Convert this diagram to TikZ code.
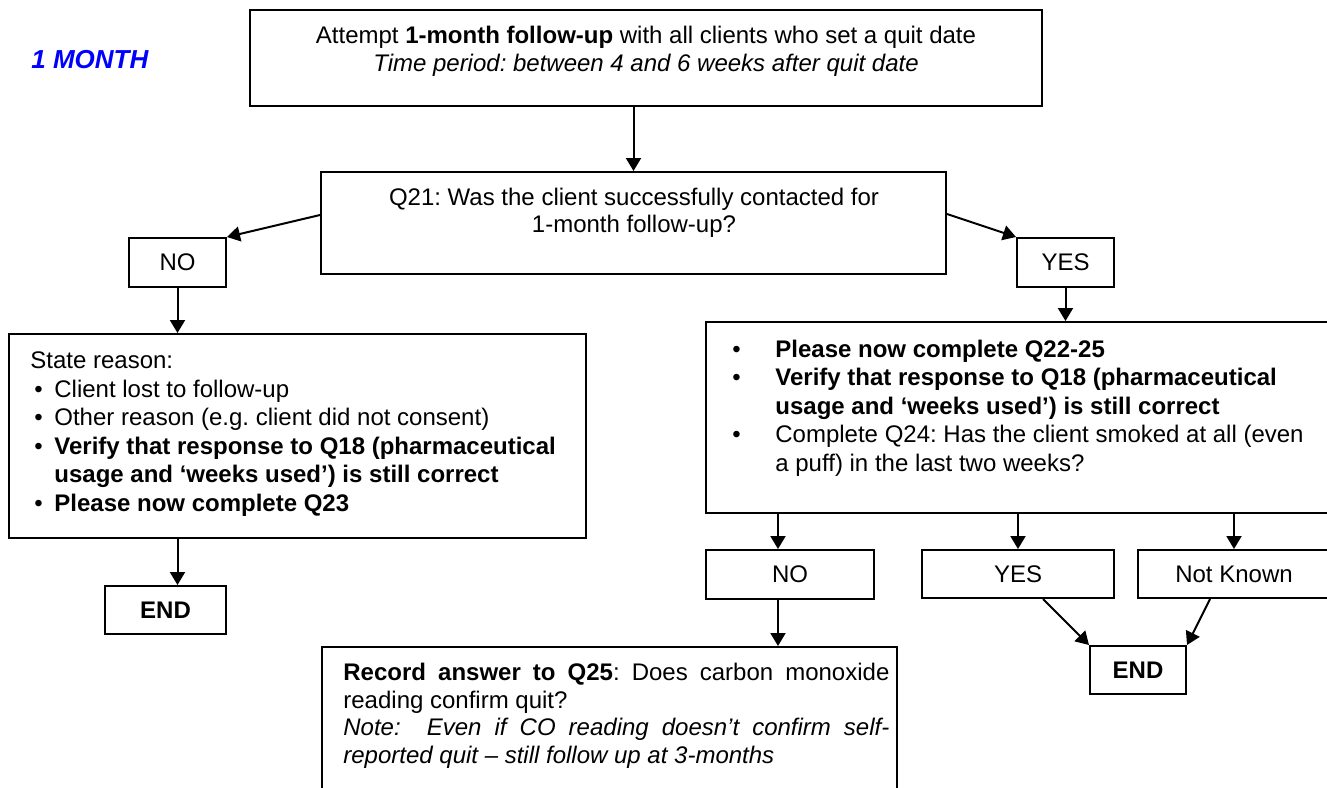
\documentclass[tikz,border=0pt]{standalone}
\usepackage{fontspec}
\setmainfont{Liberation Sans}
\usetikzlibrary{arrows.meta,calc}
\frenchspacing
\newcommand\mystrut{\rule{0pt}{10pt}}
\newcommand\lbul{\makebox[12pt][l]{\hspace{2pt}•}}
\newcommand\rbul{\makebox[21.5pt][l]{•}}
\begin{document}
\begin{tikzpicture}[x=0.5pt,y=-0.5pt,
  box/.style={draw,line width=1pt,inner sep=0pt,rectangle,font=\fontsize{12}{14}\selectfont},
  arr/.style={line width=1pt,-{Triangle[length=6.5pt,width=7.5pt]}},
  txt/.style={inner sep=0pt,font=\fontsize{12}{14}\selectfont}
]
\useasboundingbox (0,0) rectangle (1327,787);

\node[txt, anchor=base west, text=blue, font=\fontsize{13}{15}\selectfont\bfseries\itshape] (month) at (31,68) {1 MONTH};

% boxes
\node[box, minimum width=396pt, minimum height=48pt] (top) at (646,58) {};
\node[txt, anchor=north, align=center] (topT) at (646,23)
  {\mystrut Attempt \textbf{1-month follow-up} with all clients who set a quit date\\
   \textit{Time period: between 4 and 6 weeks after quit date}};

\node[box, minimum width=312.5pt, minimum height=51pt] (q21) at (633.5,223) {};
\node[txt, anchor=north, align=center, font=\fontsize{12}{13.5}\selectfont] (q21T) at (634,185)
  {\mystrut Q21: Was the client successfully contacted for\\1-month follow-up?};

\node[box, minimum width=48.5pt, minimum height=24.5pt] (nol) at (177.5,262.5) {NO};
\node[box, minimum width=48.5pt, minimum height=24.5pt] (yest) at (1065.5,262.5) {YES};

\node[box, minimum width=288.5pt, minimum height=102pt] (lbox) at (297.5,436) {};
\node[txt, anchor=north west, align=left, font=\fontsize{12}{14.3}\selectfont] (lboxT) at (30,348)
  {\mystrut State reason:\\
   \lbul Client lost to follow-up\\
   \lbul Other reason (e.g. client did not consent)\\
   \lbul\textbf{Verify that response to Q18 (pharmaceutical}\\
   \hspace*{12pt}\textbf{usage and ‘weeks used’) is still correct}\\
   \lbul\textbf{Please now complete Q23}};

\node[box, minimum width=312pt, minimum height=95.5pt] (rbox) at (1018,417.5) {};
\node[txt, anchor=north west, align=left, font=\fontsize{12}{14.25}\selectfont] (rboxT) at (732,337)
  {\mystrut\rbul\textbf{Please now complete Q22-25}\\
   \rbul\textbf{Verify that response to Q18 (pharmaceutical}\\
   \hspace*{21.5pt}\textbf{usage and ‘weeks used’) is still correct}\\
   \rbul Complete Q24: Has the client smoked at all (even\\
   \hspace*{21.5pt}a puff) in the last two weeks?};

\node[box, minimum width=60.5pt, minimum height=24pt, font=\fontsize{12}{14}\selectfont\bfseries] (endl) at (165.5,610) {END};

\node[box, minimum width=84pt, minimum height=24.5pt] (nob) at (790,574.5) {NO};
\node[box, minimum width=96pt, minimum height=24pt] (yesb) at (1018,574) {YES};
\node[box, minimum width=96pt, minimum height=24pt] (nk) at (1234,574) {Not Known};
\node[box, minimum width=48pt, minimum height=24pt, font=\fontsize{12}{14}\selectfont\bfseries] (endr) at (1138,670) {END};

\node[box, minimum width=287.5pt, minimum height=82pt] (bbox) at (609.5,729) {};
\node[txt, anchor=north west, text width=273pt, align=justify, font=\fontsize{12}{13.85}\selectfont] (bboxT) at (343,660)
  {\noindent\mystrut\textbf{Record answer to Q25}: Does carbon monoxide\linebreak
   reading confirm quit?\newline
   \textit{Note:\ \ Even if CO reading doesn’t confirm self-}\linebreak
   \textit{reported quit – still follow up at 3-months}};

% helper coordinates
\coordinate (noN) at ([xshift=-6pt]nob.north);
\coordinate (noS) at ([xshift=-6pt]nob.south);

% connectors
\draw[arr] (top.south -| q21.north) -- (q21.north);
\draw[arr] ([yshift=4pt]q21.west) -- (nol.north east);
\draw[arr] ([yshift=4.5pt]q21.east) -- (yest.north west);
\draw[arr] (nol.south) -- (nol.south |- lbox.north);
\draw[arr] (yest.south) -- (yest.south |- rbox.north);
\draw[arr] (lbox.south -| nol.south) -- (endl.north -| nol.south);
\draw[arr] (noN |- rbox.south) -- (noN);
\draw[arr] (yesb.north |- rbox.south) -- (yesb.north);
\draw[arr] (nk.north |- rbox.south) -- (nk.north);
\draw[arr] (noS) -- (noS |- bbox.north);
\draw[arr] ([xshift=12.5pt]yesb.south) -- (endr.north west);
\draw[arr] ([xshift=-12pt]nk.south) -- (endr.north east);
\end{tikzpicture}
\end{document}
